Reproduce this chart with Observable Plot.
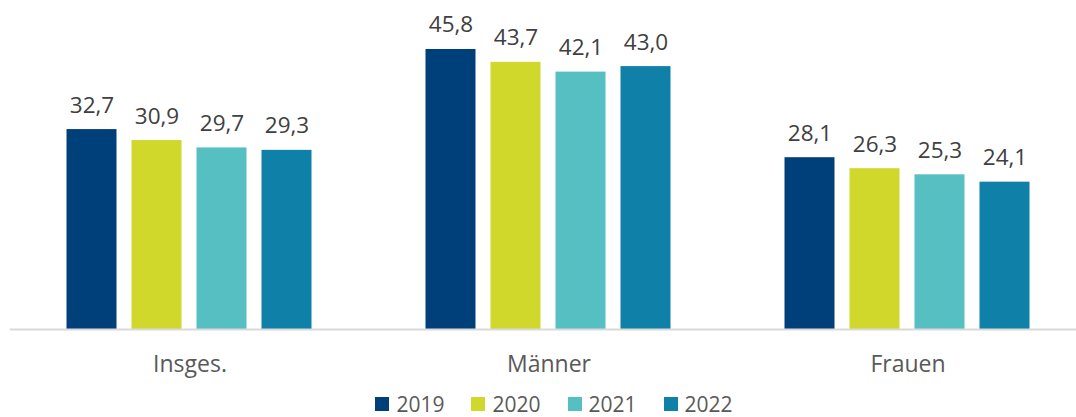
<!DOCTYPE html>
<html>
<head>
<meta charset="utf-8">
<script src="https://cdn.jsdelivr.net/npm/d3@7"></script>
<script src="https://cdn.jsdelivr.net/npm/@observablehq/plot@0.6"></script>
<style>
  html, body { margin: 0; padding: 0; background: #fff; }
  #wrap { width: 1076px; height: 417px; overflow: hidden; position: relative; font-family: "Open Sans", sans-serif; }
  #chart svg { max-width: none !important; display: block; }
  #legend { position: absolute; top: 392px; left: 0; width: 1108px; display: flex; justify-content: center; gap: 27px; font-size: 21px; line-height: 24px; color: #595959; }
  #legend .item { display: flex; align-items: center; gap: 7px; }
  #legend .sw { width: 14px; height: 14px; display: inline-block; }
</style>
</head>
<body>
<div id="wrap"><div id="chart"></div><div id="legend"></div></div>
<script>
const categories = ["Insges.", "Männer", "Frauen"];
const years = ["2019", "2020", "2021", "2022"];
const values2019 = [32.7, 45.8, 28.1];
const values2020 = [30.9, 43.7, 26.3];
const values2021 = [29.7, 42.1, 25.3];
const values2022 = [29.3, 43.0, 24.1];
const colors = ["#00407A", "#D0D82C", "#56BFC1", "#0F80A7"];

const series = [values2019, values2020, values2021, values2022];
const data = [];
categories.forEach((c, i) => {
  years.forEach((y, j) => data.push({category: c, year: y, value: series[j][i]}));
});
const fmt = v => v.toFixed(1).replace(".", ",");

const chart = Plot.plot({
  width: 1087,
  height: 385,
  marginLeft: 9.5,
  marginRight: 0,
  marginTop: 23.3,
  marginBottom: 56,
  style: {fontFamily: "Open Sans, sans-serif", background: "transparent", maxWidth: "none"},
  fx: {domain: categories, paddingInner: 0, paddingOuter: 0, label: null},
  x: {domain: years, paddingInner: 0.224, paddingOuter: 0.845, axis: null},
  y: {domain: [0, 50], axis: null},
  color: {domain: years, range: colors},
  marks: [
    Plot.barY(data, {fx: "category", x: "year", y: "value", fill: "year"}),
    Plot.ruleY([0], {stroke: "#d9d9d9", strokeWidth: 2}),
    Plot.text(data, {fx: "category", x: "year", y: "value", text: d => fmt(d.value), lineAnchor: "bottom", dy: -17, fontSize: 22.5, fill: "#404040"}),
    Plot.axisFx({anchor: "bottom", tickSize: 0, tickPadding: 26, fontSize: 23, color: "#595959", label: null})
  ]
});
document.getElementById("chart").appendChild(chart);

const legend = document.getElementById("legend");
years.forEach((y, i) => {
  const item = document.createElement("div");
  item.className = "item";
  const sw = document.createElement("span");
  sw.className = "sw";
  sw.style.background = colors[i];
  const t = document.createElement("span");
  t.textContent = y;
  item.appendChild(sw);
  item.appendChild(t);
  legend.appendChild(item);
});
</script>
</body>
</html>
